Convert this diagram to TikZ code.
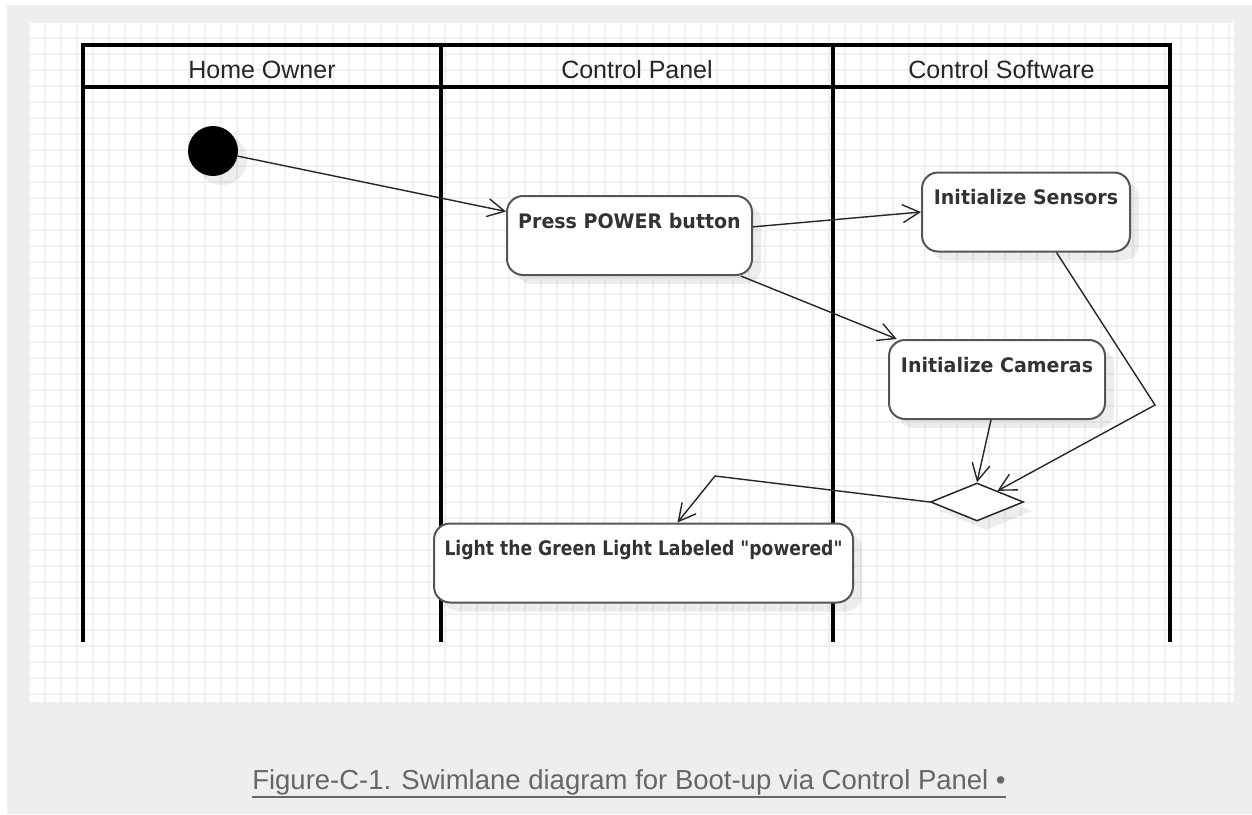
\documentclass[tikz,border=0pt]{standalone}
\usepackage{fontspec}
\setmainfont{Liberation Sans}
\newfontfamily\actfont[FakeStretch=0.95]{DejaVu Sans}
\newfontfamily\actnarrow[FakeStretch=0.86]{DejaVu Sans}
\usetikzlibrary{positioning,arrows.meta,shapes.geometric,shadows}

\definecolor{pagegray}{HTML}{EEEEEE}
\definecolor{gridgray}{HTML}{F0F0F0}
\definecolor{capgray}{HTML}{666666}
\definecolor{boxline}{HTML}{555555}

\begin{document}
\begin{tikzpicture}[x=1pt,y=-1pt,
  >={Straight Barb[length=17pt,width=18pt]},
  gridline/.style={draw=gridgray,line width=1.5pt},
  lane/.style={line width=3.5pt,line cap=rect},
  lanehead/.style={anchor=base,inner sep=0pt,text=black!85,font=\fontsize{25}{30}\selectfont},
  action/.style={draw=boxline,line width=2pt,rounded corners=16pt,fill=white,
    inner xsep=0pt,inner ysep=0pt,text height=32pt,text depth=47pt,text=black!80,
    font=\actfont\bfseries\fontsize{20}{24}\selectfont,
    drop shadow={shadow xshift=9pt,shadow yshift=-9pt,fill=black,opacity=0.07}},
  flow/.style={->,line width=1.4pt,draw=black!85}]

  \useasboundingbox (0,0) rectangle (1252,814);
  \fill[white] (0,0) rectangle (1252,814);
  \fill[pagegray] (7,5) rectangle (1252,814);

  % drawing sheet
  \fill[white] (28,21) rectangle (1234,702);
  \foreach \gx in {29,45,...,1229}
    \draw[gridline] (\gx,21) -- (\gx,702);
  \foreach \gy in {22,38,...,694}
    \draw[gridline] (28,\gy) -- (1234,\gy);

  % swimlanes
  \draw[lane] (83,45) rectangle (1170,87);
  \foreach \lx in {83,441,833,1170}
    \draw[lane] (\lx,45) -- (\lx,640);

  \node[lanehead] (ownerhead) at (262,78) {Home Owner};
  \node[lanehead] (panelhead) at (637,78) {Control Panel};
  \node[lanehead] (softhead) at (1001.5,78) {Control Software};

  % activities
  \node[circle,fill=black,minimum size=50pt,inner sep=0pt,
    drop shadow={shadow xshift=9pt,shadow yshift=-9pt,fill=black,opacity=0.07}] (start) at (213,151) {};
  \node[action,minimum width=245pt] (power) at (629.5,235.5) {Press POWER button};
  \node[action,minimum width=208pt] (sensors) at (1026,212) {Initialize Sensors};
  \node[action,minimum width=216pt] (cameras) at (997,379.5) {Initialize Cameras};
  \node[diamond,draw=black!85,line width=1.5pt,fill=white,inner sep=0pt,
    minimum width=93pt,minimum height=38pt,
    drop shadow={shadow xshift=9pt,shadow yshift=-9pt,fill=black,opacity=0.07}] (merge) at (977,502) {};
  \node[action,minimum width=419pt,font=\actnarrow\bfseries\fontsize{20}{24}\selectfont] (greenlight) at (643.5,563)
    {Light the Green Light Labeled "powered"};

  \coordinate (sensorbend) at (1155,405);
  \coordinate (mergebend) at (715,476);

  \draw[flow] (start) -- (power.169);
  \draw[flow] (power.4) -- (sensors.west);
  \draw[flow] (power.-20) -- (cameras.158);
  \draw[flow] (sensors.-53) -- (sensorbend) -- (merge);
  \draw[flow] ([xshift=-6pt]cameras.south) -- (merge.north);
  \draw[flow] (merge.west) -- (mergebend) -- (greenlight.50);

  % caption
  \node[anchor=base,inner sep=0pt,text=capgray,font=\fontsize{27.5}{32}\selectfont] (caption) at (629,789)
    {Figure-C-1. Swimlane diagram for Boot-up via Control Panel •};
  \draw[capgray,line width=2pt] ([yshift=-8pt]caption.base west) -- ([yshift=-8pt]caption.base east);

\end{tikzpicture}
\end{document}
